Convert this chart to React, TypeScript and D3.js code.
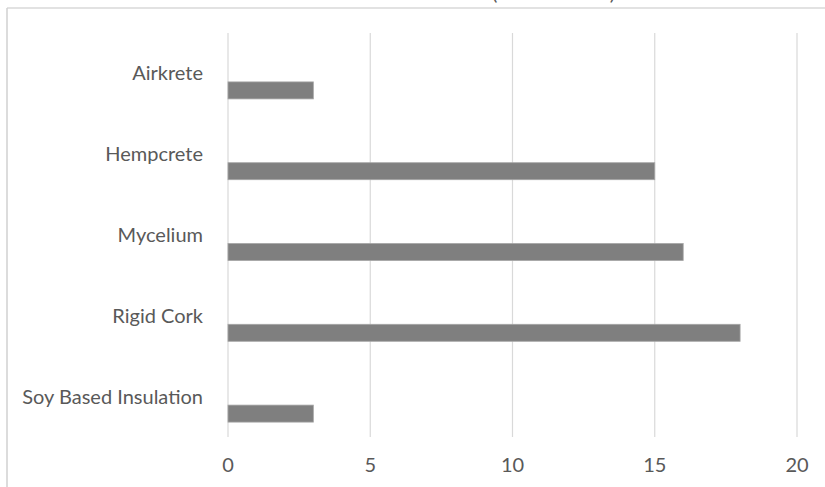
import { useEffect, useRef } from "react";
import * as d3 from "d3";

const WIDTH = 825;
const HEIGHT = 487;

const categories = ["Airkrete", "Hempcrete", "Mycelium", "Rigid Cork", "Soy Based Insulation"];
const values = [3, 15, 16, 18, 3];
// excel-style clustered layout: only the last of three series slots holds data
const slots = ["s1", "s2", "s3"];
const xTicks = [0, 5, 10, 15, 20];
const title = "Insulation Materials (R-Value Rate)";

const MARGIN = { top: 33, right: 28, bottom: 50, left: 228 };
const FONT = "Lato, 'Open Sans', sans-serif";

export default function App() {
  const ref = useRef<SVGSVGElement>(null);

  useEffect(() => {
    const svg = d3.select(ref.current);
    svg.selectAll("*").remove();

    const boundsWidth = WIDTH - MARGIN.left - MARGIN.right;
    const boundsHeight = HEIGHT - MARGIN.top - MARGIN.bottom;

    const x = d3.scaleLinear().domain([0, 20]).range([0, boundsWidth]);
    const y = d3.scaleBand().domain(categories).range([0, boundsHeight]).padding(0);
    const slot = d3.scaleBand().domain(slots).range([0, y.bandwidth()]).paddingInner(0).paddingOuter(0.876);

    // chart frame (cropped on the right and bottom)
    svg.append("line").attr("x1", 7).attr("x2", WIDTH).attr("y1", 8).attr("y2", 8)
      .attr("stroke", "#d9d9d9").attr("stroke-width", 1.5);
    svg.append("line").attr("x1", 7).attr("x2", 7).attr("y1", 8).attr("y2", HEIGHT)
      .attr("stroke", "#d0d0d0").attr("stroke-width", 1.5);

    // title sits above the visible area, only its parentheses peek in
    svg.append("text")
      .attr("x", 615).attr("y", 0)
      .attr("text-anchor", "end")
      .attr("font-family", FONT).attr("font-size", 20).attr("fill", "#595959")
      .text(title);

    const g = svg.append("g").attr("transform", `translate(${MARGIN.left},${MARGIN.top})`);

    g.selectAll(".grid").data(xTicks).join("line")
      .attr("x1", (d) => x(d)).attr("x2", (d) => x(d))
      .attr("y1", 0).attr("y2", boundsHeight)
      .attr("stroke", "#d9d9d9").attr("stroke-width", 1.2);

    g.selectAll(".tick").data(xTicks).join("text")
      .attr("x", (d) => x(d)).attr("y", boundsHeight + 28)
      .attr("dy", "0.35em")
      .attr("text-anchor", "middle")
      .attr("font-family", FONT).attr("font-size", 20).attr("fill", "#595959")
      .text((d) => d);

    g.selectAll(".cat").data(categories).join("text")
      .attr("x", -25).attr("y", (d) => (y(d) ?? 0) + y.bandwidth() / 2)
      .attr("dy", "0.35em")
      .attr("text-anchor", "end")
      .attr("font-family", FONT).attr("font-size", 20).attr("fill", "#595959")
      .text((d) => d);

    g.selectAll(".bar").data(values).join("rect")
      .attr("x", 0)
      .attr("y", (d, i) => (y(categories[i]) ?? 0) + (slot("s3") ?? 0))
      .attr("width", (d) => x(d))
      .attr("height", slot.bandwidth())
      .attr("fill", "#7f7f7f")
      .attr("stroke", "#a6a6a6").attr("stroke-width", 0.8);
  }, []);

  return (
    <svg ref={ref} width={WIDTH} height={HEIGHT}
      style={{ position: "absolute", left: 0, top: 0, background: "#fff" }} />
  );
}
